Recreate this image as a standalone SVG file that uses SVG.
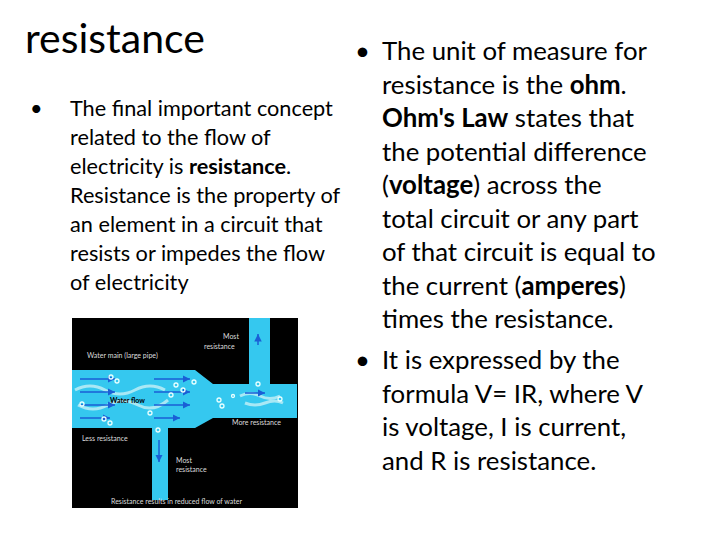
<svg xmlns="http://www.w3.org/2000/svg" width="720" height="540" viewBox="0 0 720 540">
<style>
text{font-family:Lato,"Open Sans","Liberation Sans",sans-serif;fill:#000}
.l{font-size:21.7px}.r{font-size:25.8px}.s{font-size:7px;fill:#ddd}
.a{stroke:#1a5fd6;stroke-width:1.5;fill:none}
.b{fill:none;stroke:#e8ffff;stroke-width:1.3}
.w{fill:none;stroke:#a8e8f5;stroke-width:3}
</style>
<defs><marker id="m" viewBox="0 0 6 6" refX="6" refY="3" markerWidth="5" markerHeight="5" orient="auto"><path d="M0,0L6,3L0,6z" fill="#1a5fd6"/></marker></defs>
<rect width="720" height="540" fill="#fff"/>
<text x="25" y="53" font-size="41">resistance</text>
<g class="l">
<text x="30" y="116">•</text>
<text x="70" y="116">The final important concept</text>
<text x="70" y="145">related to the flow of</text>
<text x="70" y="174">electricity is <tspan font-weight="bold">resistance</tspan>.</text>
<text x="70" y="203">Resistance is the property of</text>
<text x="70" y="232">an element in a circuit that</text>
<text x="70" y="261">resists or impedes the flow</text>
<text x="70" y="290">of electricity</text>
</g>
<g class="r">
<text x="355" y="60">•</text>
<text x="382" y="60">The unit of measure for</text>
<text x="382" y="94">resistance is the <tspan font-weight="bold">ohm</tspan>.</text>
<text x="382" y="127"><tspan font-weight="bold">Ohm's Law</tspan> states that</text>
<text x="382" y="161">the potential difference</text>
<text x="382" y="194">(<tspan font-weight="bold">voltage</tspan>) across the</text>
<text x="382" y="228">total circuit or any part</text>
<text x="382" y="261">of that circuit is equal to</text>
<text x="382" y="295">the current (<tspan font-weight="bold">amperes</tspan>)</text>
<text x="382" y="328">times the resistance.</text>
<text x="355" y="369">•</text>
<text x="382" y="369">It is expressed by the</text>
<text x="382" y="403">formula V= IR, where V</text>
<text x="382" y="436">is voltage, I is current,</text>
<text x="382" y="470">and R is resistance.</text>
</g>
<g id="picture">
<rect x="72" y="318" width="226" height="190" fill="#000"/>
<path d="M72,370H195L213,384H249V318H270V384H297V418H213L195,428H168V500H152V428H72Z" fill="#35c8ef"/>
<path class="w" d="M75,390q15,-8 30,0t30,0t30,0 M78,405q15,8 30,0t30,0t30,-5 M240,396q10,-5 20,0t20,0 M245,403q10,4 20,0t18,0"/>
<g class="a" marker-end="url(#m)">
<path d="M80,379H115"/><path d="M80,392H115"/><path d="M80,405H115"/><path d="M80,418H110"/>
<path d="M154,379H190"/><path d="M154,392H190"/><path d="M154,405H190"/><path d="M154,418H180"/>
<path d="M245,393H265"/><path d="M258,345V334"/><path d="M159,440V462"/>
</g>
<g class="b">
<circle cx="111" cy="377" r="2"/><circle cx="117" cy="381" r="2"/><circle cx="82" cy="404" r="2"/><circle cx="104" cy="419" r="2"/><circle cx="110" cy="423" r="2"/><circle cx="176" cy="385" r="2"/><circle cx="183" cy="390" r="2"/><circle cx="171" cy="395" r="2"/><circle cx="150" cy="413" r="2"/><circle cx="194" cy="382" r="2"/><circle cx="219" cy="400" r="2"/><circle cx="222" cy="406" r="2"/><circle cx="233" cy="396" r="1.5"/><circle cx="258" cy="384" r="2"/><circle cx="280" cy="399" r="2"/><circle cx="158" cy="430" r="2"/>
</g>
<text x="110" y="403" font-size="7" font-weight="bold" fill="#113">Water flow</text>
<text x="87" y="358" class="s">Water main (large pipe)</text>
<text x="223" y="339" class="s">Most</text><text x="204" y="349" class="s">resistance</text>
<text x="232" y="425" class="s">More resistance</text>
<text x="82" y="441" class="s">Less resistance</text>
<text x="176" y="463" class="s">Most</text><text x="176" y="472" class="s">resistance</text>
<text x="111" y="504" class="s">Resistance results in reduced flow of water</text>
</g>
</svg>
